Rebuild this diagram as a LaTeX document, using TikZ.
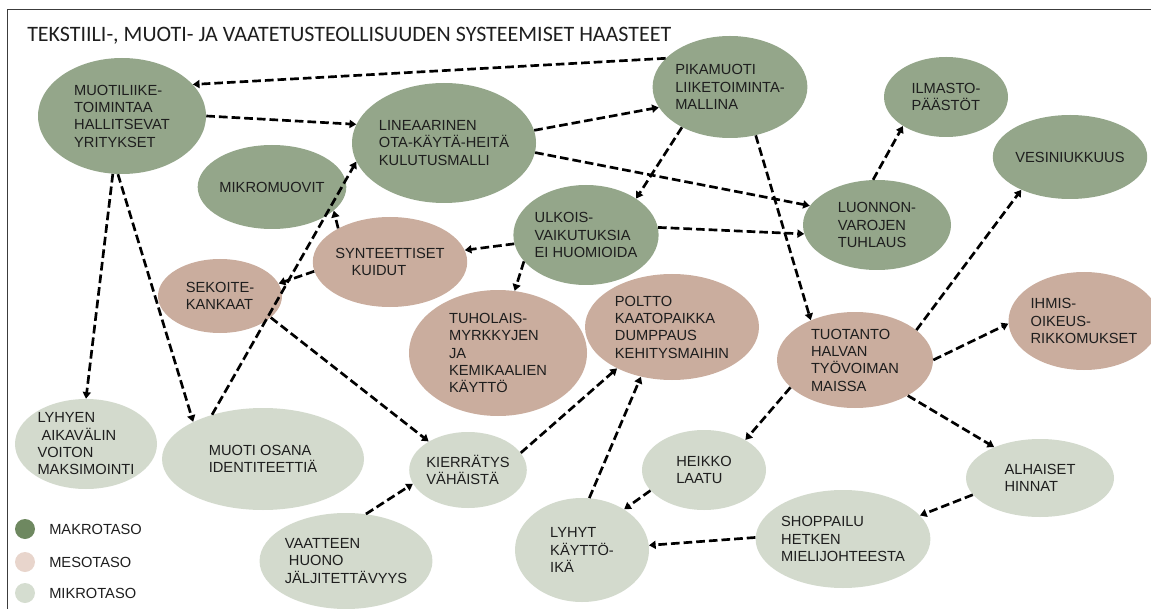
\documentclass[tikz,border=0pt]{standalone}
\usepackage{fontspec}
\setmainfont{Liberation Sans}
\newfontfamily\titlefont{Carlito}
\usepackage{xcolor}
\usetikzlibrary{shapes.geometric}
\usetikzlibrary{arrows.meta}

\definecolor{makrofill}{RGB}{148,166,138}
\definecolor{mesofill}{RGB}{202,173,158}
\definecolor{mikrofill}{RGB}{211,218,205}
\definecolor{makroleg}{RGB}{110,136,96}
\definecolor{mesoleg}{RGB}{232,213,204}
\definecolor{mikroleg}{RGB}{213,221,208}
\definecolor{inkgray}{RGB}{30,30,30}

\tikzset{
  nd/.style={ellipse,inner sep=0pt,align=left,text=inkgray,font=\fontsize{11}{13}\selectfont},
  sz/.style n args={2}{minimum width=1.5*#1pt,minimum height=1.5*#2pt},
  makro/.style={nd,fill=makrofill},
  meso/.style={nd,fill=mesofill},
  mikro/.style={nd,fill=mikrofill},
  lgd/.style={circle,inner sep=0pt,minimum size=15pt},
  lgdtext/.style={anchor=west,inner sep=0pt,text=inkgray,font=\fontsize{11}{13}\selectfont},
  link/.style={draw=black,line width=2pt,dash pattern={on 6.5pt off 3pt},-{Triangle[length=5pt,width=6pt]}}
}

\begin{document}
\begin{tikzpicture}[x=0.75pt,y=0.75pt,yscale=-1,xscale=1]
\useasboundingbox (0,0) rectangle (1151,609);

%Frame
\draw [color={rgb, 255:red, 60; green, 60; blue, 60 }, line width=0.75]  (7,609) -- (7,10) -- (1151,10) ;

% Title
\node [anchor=base west, inner sep=0pt, text=inkgray, font=\titlefont\fontsize{16.5}{20}\selectfont] (title) at (27,42) {TEKSTIILI-, MUOTI- JA VAATETUSTEOLLISUUDEN SYSTEEMISET HAASTEET};

%Shape: Ellipse -- makrotaso
\node [makro, sz={84}{58}] (muoti) at (122,116) {MUOTILIIKE-\\TOIMINTAA\\HALLITSEVAT\\YRITYKSET};
\node [makro, sz={81}{60}] (lin) at (444,143) {LINEAARINEN\\OTA-KÄYTÄ-HEITÄ\\KULUTUSMALLI};
\node [makro, sz={66}{51}] (pika) at (730,87) {PIKAMUOTI\\LIIKETOIMINTA-\\MALLINA};
\node [makro, sz={62}{40}] (ilmasto) at (946,97) {ILMASTO-\\PÄÄSTÖT};
\node [makro, sz={62}{42}] (vesi) at (1070,157) {VESINIUKKUUS};
\node [makro, sz={59}{42}] (mikro) at (272,187) {MIKROMUOVIT};
\node [makro, sz={70}{50}] (ulkois) at (586,235) {ULKOIS-\\VAIKUTUKSIA\\EI HUOMIOIDA};
\node [makro, sz={74}{45}] (luonnon) at (877,225) {LUONNON-\\VAROJEN\\TUHLAUS};

%Shape: Ellipse -- mesotaso
\node [meso, sz={70}{45}] (synt) at (390,262) {SYNTEETTISET\\\ \ \ \ KUIDUT};
\node [meso, sz={62}{37}] (sekoite) at (220,296) {SEKOITE-\\KANKAAT};
\node [meso, sz={89}{63}] (tuholais) at (498,353) {TUHOLAIS-\\MYRKKYJEN\\JA\\KEMIKAALIEN\\KÄYTTÖ};
\node [meso, sz={87}{53}] (poltto) at (672,327) {POLTTO\\KAATOPAIKKA\\DUMPPAUS\\KEHITYSMAIHIN};
\node [meso, sz={78}{48}] (tuotanto) at (855,360) {TUOTANTO\\HALVAN\\TYÖVOIMAN\\MAISSA};
\node [meso, sz={66}{49}] (ihmis) at (1084,321) {IHMIS-\\OIKEUS-\\RIKKOMUKSET};

%Shape: Ellipse -- mikrotaso
\node [mikro, sz={71}{45}] (lyhyen) at (86,444) {LYHYEN\\\ AIKAVÄLIN\\VOITON\\MAKSIMOINTI};
\node [mikro, sz={101}{51}] (identit) at (263,459) {MUOTI OSANA\\IDENTITEETTIÄ};
\node [mikro, sz={58}{38}] (kierr) at (468,470) {KIERRÄTYS\\VÄHÄISTÄ};
\node [mikro, sz={80}{48}] (vaatteen) at (346,561) {VAATTEEN\\\ HUONO\\JÄLJITETTÄVYYS};
\node [mikro, sz={62}{40}] (heikko) at (704,470) {HEIKKO\\LAATU};
\node [mikro, sz={67}{52}] (lyhyt) at (582,550) {LYHYT\\KÄYTTÖ-\\IKÄ};
\node [mikro, sz={74}{39}] (alhaiset) at (1040,478) {ALHAISET\\HINNAT};
\node [mikro, sz={77}{49}] (shoppailu) at (843,539) {SHOPPAILU\\HETKEN\\MIELIJOHTEESTA};

%Straight Lines
\draw [link] (pika.156) -- (muoti.24) ;
\draw [link] (muoti.0) -- (lin.168) ;
\draw [link] (lin.8) -- (pika.196) ;
\draw [link] (lin.-6) -- (luonnon.164) ;
\draw [link] (pika.220) -- (ulkois.36) ;
\draw [link] (pika.298) -- (tuotanto.138) ;
\draw [link] (ulkois.6) -- (luonnon.187) ;
\draw [link] (ulkois.187) -- (synt.9) ;
\draw [link] (ulkois.203) -- (tuholais.75) ;
\draw [link] (synt.147) -- (mikro.339) ;
\draw [link] (synt.187) -- (sekoite.12) ;
\draw [link] (identit.139) -- (lin.192) ;
\draw [link] (sekoite.337) -- (kierr.144) ;
\draw [link] (muoti.261) -- (lyhyen.90) ;
\draw [link] (muoti.266) -- (identit.152) ;
\draw [link] (vaatteen.67) -- (kierr.194) ;
\draw [link] (kierr.18) -- (poltto.217) ;
\draw [link] (lyhyt.82) -- (poltto.238) ;
\draw [link] (heikko.201) -- (lyhyt.44) ;
\draw [link] (shoppailu.179) -- (lyhyt.4) ;
\draw [link] (tuotanto.203) -- (heikko.36) ;
\draw [link] (tuotanto.326) -- (alhaiset.146) ;
\draw [link] (alhaiset.194) -- (shoppailu.17) ;
\draw [link] (tuotanto.0) -- (ihmis.182) ;
\draw [link] (tuotanto.26) -- (vesi.214) ;
\draw [link] (luonnon.95) -- (ilmasto.214) ;

% Legend
\node [lgd, fill=makroleg] (lgmakro) at (25,529) {};
\node [lgd, fill=mesoleg] (lgmeso) at (25,562) {};
\node [lgd, fill=mikroleg] (lgmikro) at (25,593) {};
\node [lgdtext] (txmakro) at (49,529) {MAKROTASO};
\node [lgdtext] (txmeso) at (49,562) {MESOTASO};
\node [lgdtext] (txmikro) at (49,593) {MIKROTASO};

\end{tikzpicture}
\end{document}
